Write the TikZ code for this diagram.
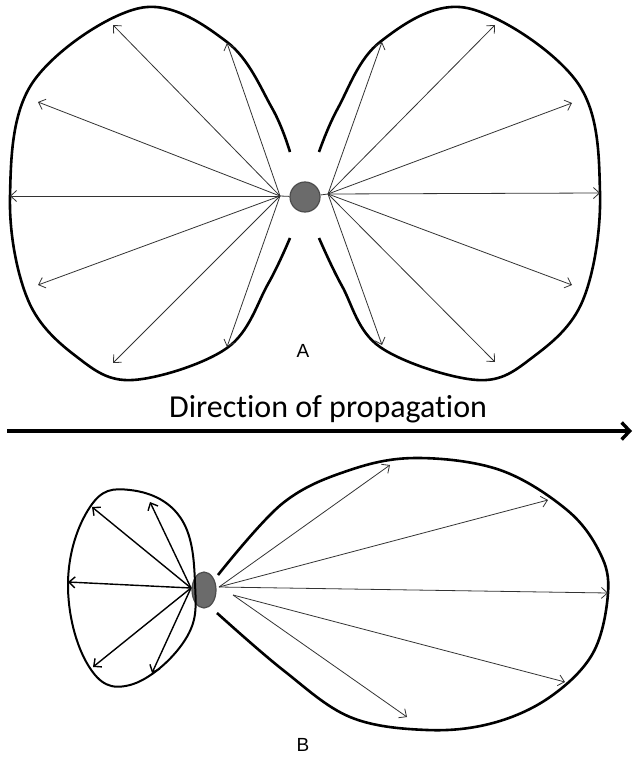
\documentclass[tikz,border=0pt]{standalone}
\usepackage{fontspec}
\newfontfamily\calibri[Ligatures=NoCommon]{Carlito}
\newfontfamily\arial{Liberation Sans}
\usetikzlibrary{arrows.meta, shapes.geometric}

\begin{document}
\begin{tikzpicture}[x=1pt, y=-1pt]
    \tikzset{
        lobe/.style={line width=2.6pt, line join=round},
        ray/.style={-{Straight Barb[length=6pt, width=11pt]}, line width=0.8pt, black!80},
        bray/.style={-{Straight Barb[length=6pt, width=11pt]}, line width=1.4pt},
        source/.style={circle, draw=black!70, line width=1.2pt, fill=black!58, minimum size=30pt, inner sep=0pt},
        panel/.style={font=\arial\fontsize{19}{22}\selectfont},
        dir/.style={-{Straight Barb[length=8pt, width=17pt]}, line width=3.4pt}
    }
    \useasboundingbox (0,0) rectangle (634,757);

    % Nodes
    \node[source] (dotA) at (305,197) {};
    \node[source, ellipse, minimum width=24pt, minimum height=36pt] (dotB) at (204,590) {};
    \node[panel] (labA) at (303,351) {A};
    \node[panel] (labB) at (303,745) {B};
    \node[font=\calibri\fontsize{32}{36}\selectfont, anchor=base west, inner sep=0pt] (title) at (169,417) {Direction of propagation};

    % Origins
    \coordinate (oAL) at (280,196);
    \coordinate (oAR) at (328,194);
    \coordinate (oBL) at (191,588);
    \coordinate (oBR) at (219,587);
    \coordinate (oBR2) at (233,595);
    \coordinate (dirS) at (7,431);
    \coordinate (dirE) at (632,431);

    % Lobes
    \draw[lobe] plot[smooth, tension=0.6] coordinates {(290,152) (272,108) (227,42) (140,8) (33,82) (10,197) (28,300) (77,357) (133,380) (227,348) (268,284) (290,238)};
    \draw[lobe] plot[smooth, tension=0.6] coordinates {(319,152) (338,108) (380,42) (467,8) (577,82) (600,193) (583,300) (533,357) (477,380) (380,347) (342,286) (319,238)};
    \draw[lobe, line width=2pt] plot[smooth cycle, tension=0.7] coordinates {(130,490) (180,517) (195,583) (185,640) (130,685) (88,665) (68,583) (90,507)};
    \draw[lobe] plot[smooth, tension=0.6] coordinates {(218,575) (283,503) (350,470) (417,458) (500,470) (567,510) (600,553) (608,593) (593,653) (550,697) (493,723) (427,730) (350,717) (283,670) (217,613)};

    % Edges
    \draw[line width=0.8pt, black!80] (oAL) -- (dotA) (oAR) -- (dotA);
    \foreach \x/\y [count=\i] in {113/25, 227/43, 38/102, 10/196, 38/285, 113/363, 227/347} {
        \coordinate (al\i) at (\x,\y);
        \draw[ray] (oAL) -- (al\i);
    }
    \foreach \x/\y [count=\i] in {382/42, 495/25, 572/103, 600/193, 572/285, 495/362, 382/345} {
        \coordinate (ar\i) at (\x,\y);
        \draw[ray] (oAR) -- (ar\i);
    }
    \foreach \x/\y [count=\i] in {92/507, 150/502, 68/582, 93/667, 152/673} {
        \coordinate (bl\i) at (\x,\y);
        \draw[bray] (oBL) -- (bl\i);
    }
    \foreach \x/\y [count=\i] in {390/465, 548/500, 608/593} {
        \coordinate (br\i) at (\x,\y);
        \draw[ray] (oBR) -- (br\i);
    }
    \foreach \x/\y [count=\i] in {565/682, 407/717} {
        \coordinate (bs\i) at (\x,\y);
        \draw[ray] (oBR2) -- (bs\i);
    }
    \draw[dir] (dirS) -- (dirE);
\end{tikzpicture}
\end{document}
